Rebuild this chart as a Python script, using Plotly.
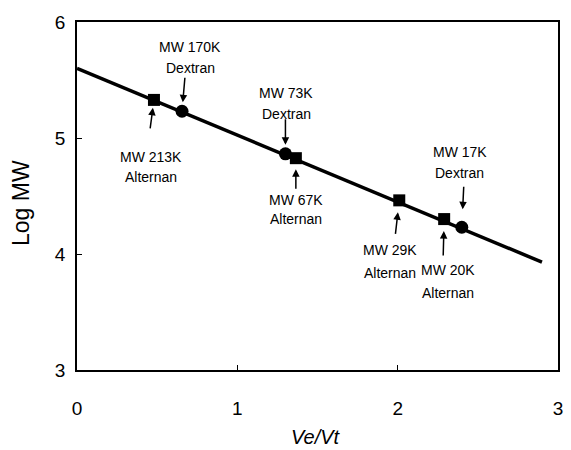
import numpy as np
import plotly.graph_objects as go

# Elution data: relative elution volume and molecular weight of each standard
alternan_ve_vt = [0.48, 1.365, 2.01, 2.29]
alternan_mw = [213000, 67000, 29000, 20000]
dextran_ve_vt = [0.655, 1.30, 2.40]
dextran_mw = [170000, 73000, 17000]

# Calibration line end points (Ve/Vt, Log MW)
fit_x = [0.0, 2.9]
fit_y = [5.60, 3.93]

x_ticks = [0, 1, 2, 3]
y_ticks = [3, 4, 5, 6]

alternan_logmw = list(np.log10(alternan_mw))
dextran_logmw = list(np.log10(dextran_mw))

fig = go.Figure()
fig.add_trace(go.Scatter(x=fit_x, y=fit_y, mode="lines",
                         line=dict(color="black", width=3.5), showlegend=False))
fig.add_trace(go.Scatter(x=alternan_ve_vt, y=alternan_logmw, mode="markers",
                         marker=dict(symbol="square", size=12, color="black"),
                         showlegend=False))
fig.add_trace(go.Scatter(x=dextran_ve_vt, y=dextran_logmw, mode="markers",
                         marker=dict(symbol="circle", size=13, color="black"),
                         showlegend=False))

# label layout per point: (x, y, name, kind, arrow tail dx, dy, standoff,
#                          text dx, line1 dy, line2 dy)
labels = [
    (alternan_ve_vt[0], alternan_logmw[0], "MW 213K", "Alternan", -4, 30, 8, -3, 57, 77),
    (dextran_ve_vt[0], dextran_logmw[0], "MW 170K", "Dextran", 3, -35, 9, 8, -64, -43),
    (dextran_ve_vt[1], dextran_logmw[1], "MW 73K", "Dextran", 0, -36, 9, 1, -61, -40),
    (alternan_ve_vt[1], alternan_logmw[1], "MW 67K", "Alternan", 0, 32, 11, 0, 42, 61),
    (alternan_ve_vt[2], alternan_logmw[2], "MW 29K", "Alternan", -4, 35, 12, -9, 50, 73),
    (alternan_ve_vt[3], alternan_logmw[3], "MW 20K", "Alternan", -1, 38, 12, 4, 51, 74),
    (dextran_ve_vt[2], dextran_logmw[2], "MW 17K", "Dextran", 2, -42, 18, -2, -75, -54),
]

label_font = dict(family="Liberation Sans", size=14, color="black")
for x, y, line1, line2, adx, ady, stand, tdx, t1, t2 in labels:
    fig.add_annotation(x=x, y=y, xref="x", yref="y", text="", showarrow=True,
                       arrowhead=2, arrowsize=1.0, arrowwidth=1.5,
                       arrowcolor="black", ax=adx, ay=ady, standoff=stand)
    for txt, dy in ((line1, t1), (line2, t2)):
        fig.add_annotation(x=x, y=y, xref="x", yref="y", text=txt,
                           showarrow=False, xshift=tdx, yshift=-dy,
                           xanchor="center", yanchor="middle", font=label_font)

# axis titles
fig.add_annotation(x=0, y=0.48, xref="paper", yref="paper", text="Log MW",
                   textangle=-90, showarrow=False, xshift=-56,
                   xanchor="center", yanchor="middle",
                   font=dict(family="Liberation Sans", size=23, color="black"))
fig.add_annotation(x=0.496, y=0, xref="paper", yref="paper", text="<i>Ve/Vt</i>",
                   showarrow=False, yshift=-67, xanchor="center", yanchor="middle",
                   font=dict(family="Liberation Sans", size=20, color="black"))

axis_common = dict(showgrid=False, zeroline=False, showline=True, mirror=True,
                   linecolor="black", linewidth=1.5, ticks="inside", ticklen=5,
                   tickcolor="black", tickwidth=1.2,
                   tickfont=dict(family="Liberation Sans", size=19, color="black"))

fig.update_layout(
    width=571, height=450,
    margin=dict(l=77, r=8, t=22, b=80),
    paper_bgcolor="white", plot_bgcolor="white",
    xaxis=dict(range=[0, 3], tickvals=x_ticks, ticklabelstandoff=20, **axis_common),
    yaxis=dict(range=[3, 6], tickvals=y_ticks, ticklabelstandoff=6, **axis_common),
)

fig.write_html("out.html")
